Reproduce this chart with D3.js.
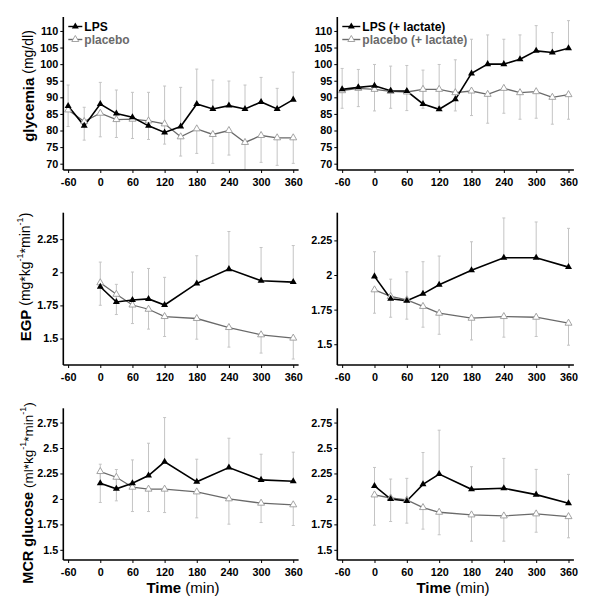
<!DOCTYPE html>
<html>
<head>
<meta charset="utf-8">
<script src="https://cdn.jsdelivr.net/npm/d3@7/dist/d3.min.js"></script>
<style>
  html, body { margin: 0; padding: 0; background: #fff; }
  svg { display: block; font-family: "Liberation Sans", Arial, sans-serif; }
</style>
</head>
<body>
<svg id="chart" width="600" height="614"></svg>
<script>
// ---------- data ----------
const timeGly = [-60, -30, 0, 30, 60, 90, 120, 150, 180, 210, 240, 270, 300, 330, 360];
const timeKin = [0, 30, 60, 90, 120, 180, 240, 300, 360];

const xTickLabels = [-60, 0, 60, 120, 180, 240, 300, 360];
const glyTicks = [70, 75, 80, 85, 90, 95, 100, 105, 110];
const egpTicks = [1.5, 1.75, 2, 2.25];
const mcrTicks = [1.5, 1.75, 2, 2.25, 2.5, 2.75];

// glycemia (mg/dl)
const glyLPS        = [87.4, 81.4, 88.0, 85.1, 84.0, 81.4, 79.4, 81.2, 88.0, 86.5, 87.5, 86.5, 88.6, 86.5, 89.3];
const glyLPSErr     = [6.3, 5.6, 6.5, 7.1, 7.5, 10.1, 14.0, 11.8, 10.5, 8.7, 7.4, 7.2, 7.4, 6.2, 8.3];
const glyPlacebo    = [86.2, 82.7, 85.2, 83.3, 83.4, 82.9, 82.0, 78.1, 80.5, 78.8, 80.0, 76.4, 78.5, 77.8, 77.8];
const glyPlaceboErr = [5.0, 5.6, 7.1, 5.4, 5.8, 5.6, 6.1, 5.8, 7.4, 8.7, 7.4, 8.5, 8.1, 8.3, 7.7];

const glyLPSLac        = [92.4, 93.0, 93.5, 92.0, 91.9, 88.0, 86.4, 89.4, 97.2, 100.0, 100.0, 101.5, 104.0, 103.5, 104.8];
const glyLPSLacErr     = [6.3, 5.4, 6.4, 7.4, 7.7, 10.2, 13.5, 11.9, 10.3, 8.8, 7.5, 7.3, 7.6, 6.0, 8.3];
const glyPlaceboLac    = [92.0, 92.7, 92.4, 91.8, 91.6, 92.4, 92.4, 91.4, 91.9, 90.9, 92.7, 91.4, 91.7, 90.0, 90.8];
const glyPlaceboLacErr = [5.3, 5.5, 6.5, 5.1, 5.6, 5.7, 5.2, 5.5, 7.4, 8.7, 7.5, 8.0, 8.0, 8.1, 7.4];

// EGP (mg*kg-1*min-1)
const egpLPS        = [1.891, 1.776, 1.791, 1.799, 1.753, 1.916, 2.024, 1.936, 1.926];
const egpLPSErr     = [0.186, 0.133, 0.211, 0.230, 0.209, 0.209, 0.284, 0.251, 0.276];
const egpPlacebo    = [1.921, 1.834, 1.753, 1.721, 1.666, 1.651, 1.583, 1.528, 1.503];
const egpPlaceboErr = [0.170, 0.153, 0.140, 0.150, 0.151, 0.156, 0.148, 0.138, 0.158];

const egpLPSLac        = [1.990, 1.828, 1.814, 1.864, 1.929, 2.035, 2.125, 2.125, 2.057];
const egpLPSLacErr     = [0.178, 0.142, 0.209, 0.232, 0.208, 0.205, 0.287, 0.258, 0.280];
const egpPlaceboLac    = [1.893, 1.845, 1.821, 1.773, 1.724, 1.688, 1.700, 1.695, 1.652];
const egpPlaceboLacErr = [0.169, 0.150, 0.140, 0.150, 0.152, 0.157, 0.149, 0.139, 0.159];

// MCR glucose (ml*kg-1*min-1)
const mcrLPS        = [2.154, 2.099, 2.154, 2.230, 2.364, 2.168, 2.308, 2.187, 2.174];
const mcrLPSErr     = [0.187, 0.190, 0.229, 0.317, 0.435, 0.222, 0.288, 0.252, 0.285];
const mcrPlacebo    = [2.269, 2.213, 2.115, 2.096, 2.096, 2.069, 2.001, 1.958, 1.942];
const mcrPlaceboErr = [0.304, 0.232, 0.239, 0.220, 0.230, 0.255, 0.249, 0.190, 0.203];

const mcrLPSLac        = [2.127, 1.999, 1.980, 2.143, 2.244, 2.094, 2.104, 2.042, 1.957];
const mcrLPSLacErr     = [0.182, 0.196, 0.222, 0.313, 0.431, 0.222, 0.294, 0.248, 0.284];
const mcrPlaceboLac    = [2.039, 2.009, 1.990, 1.915, 1.869, 1.843, 1.833, 1.853, 1.826];
const mcrPlaceboLacErr = [0.297, 0.231, 0.228, 0.212, 0.221, 0.258, 0.248, 0.180, 0.208];

const legendLeft  = ["LPS", "placebo"];
const legendRight = ["LPS (+ lactate)", "placebo (+ lactate)"];

// ---------- layout ----------
const svg = d3.select("#chart");
const cols = [{x0: 63.3, x1: 298.6}, {x0: 337.3, x1: 573.9}];
const rows = [
  {top: 17, bottom: 170},
  {top: 212.7, bottom: 365},
  {top: 408.3, bottom: 560}
];
const xDomain = [-69, 370];

const panels = [
  {r: 0, c: 0, t: timeGly, a: glyLPS, ae: glyLPSErr, b: glyPlacebo, be: glyPlaceboErr, dom: [68.1, 114.2], ticks: glyTicks, legend: legendLeft},
  {r: 0, c: 1, t: timeGly, a: glyLPSLac, ae: glyLPSLacErr, b: glyPlaceboLac, be: glyPlaceboLacErr, dom: [68.1, 114.2], ticks: glyTicks, legend: legendRight},
  {r: 1, c: 0, t: timeKin, a: egpLPS, ae: egpLPSErr, b: egpPlacebo, be: egpPlaceboErr, dom: [1.30, 2.45], ticks: egpTicks},
  {r: 1, c: 1, t: timeKin, a: egpLPSLac, ae: egpLPSLacErr, b: egpPlaceboLac, be: egpPlaceboLacErr, dom: [1.35, 2.45], ticks: egpTicks},
  {r: 2, c: 0, t: timeKin, a: mcrLPS, ae: mcrLPSErr, b: mcrPlacebo, be: mcrPlaceboErr, dom: [1.40, 2.89], ticks: mcrTicks},
  {r: 2, c: 1, t: timeKin, a: mcrLPSLac, ae: mcrLPSLacErr, b: mcrPlaceboLac, be: mcrPlaceboLacErr, dom: [1.40, 2.89], ticks: mcrTicks}
];

const tri = d3.symbol().type(d3.symbolTriangle).size(21);
const LPS_COLOR = "#000";
const PLA_LINE = "#6a6a6a";
const PLA_MARK = "#9a9a9a";
const ERR_COLOR = "#c4c4c4";

panels.forEach((p, i) => {
  const col = cols[p.c], row = rows[p.r];
  const x = d3.scaleLinear().domain(xDomain).range([col.x0, col.x1]);
  const y = d3.scaleLinear().domain(p.dom).range([row.bottom, row.top]);
  const g = svg.append("g");

  const clipId = "clip" + i;
  svg.append("clipPath").attr("id", clipId).append("rect")
    .attr("x", col.x0).attr("y", row.top)
    .attr("width", col.x1 - col.x0).attr("height", row.bottom - row.top);

  const plot = g.append("g").attr("clip-path", `url(#${clipId})`);

  // error bars: LPS upward, placebo downward
  const errs = [];
  p.t.forEach((t, k) => {
    errs.push({t, v0: p.a[k], v1: p.a[k] + p.ae[k]});
    errs.push({t, v0: p.b[k], v1: p.b[k] - p.be[k]});
  });
  const eb = plot.append("g").attr("stroke", ERR_COLOR).attr("stroke-width", 1);
  eb.selectAll("line.v").data(errs).join("line").attr("class", "v")
    .attr("x1", d => x(d.t)).attr("x2", d => x(d.t))
    .attr("y1", d => y(d.v0)).attr("y2", d => y(d.v1));
  eb.selectAll("line.cap").data(errs).join("line").attr("class", "cap")
    .attr("x1", d => x(d.t) - 1.5).attr("x2", d => x(d.t) + 1.5)
    .attr("y1", d => y(d.v1)).attr("y2", d => y(d.v1));

  const line = d3.line().x(d => x(d[0])).y(d => y(d[1]));
  const aPts = p.t.map((t, k) => [t, p.a[k]]);
  const bPts = p.t.map((t, k) => [t, p.b[k]]);

  plot.append("path").datum(bPts).attr("d", line)
    .attr("fill", "none").attr("stroke", PLA_LINE).attr("stroke-width", 1.3);
  plot.append("path").datum(aPts).attr("d", line)
    .attr("fill", "none").attr("stroke", LPS_COLOR).attr("stroke-width", 1.6);

  plot.selectAll("path.mb").data(bPts).join("path").attr("class", "mb")
    .attr("d", tri).attr("transform", d => `translate(${x(d[0])},${y(d[1])})`)
    .attr("fill", "#fff").attr("stroke", PLA_MARK).attr("stroke-width", 0.9);
  plot.selectAll("path.ma").data(aPts).join("path").attr("class", "ma")
    .attr("d", tri).attr("transform", d => `translate(${x(d[0])},${y(d[1])})`)
    .attr("fill", LPS_COLOR);

  // axes
  const yAxis = d3.axisLeft(y).tickValues(p.ticks).tickSize(3).tickPadding(2).tickFormat(d => String(d));
  const ya = g.append("g").attr("transform", `translate(${col.x0},0)`).call(yAxis);
  const xAxis = d3.axisBottom(x).tickValues(xTickLabels).tickSize(3).tickPadding(5).tickFormat(d => String(d));
  const xa = g.append("g").attr("transform", `translate(0,${row.bottom})`).call(xAxis);
  [ya, xa].forEach(a => {
    a.select(".domain").attr("stroke", "#000").attr("stroke-width", 1.6);
    a.selectAll(".tick line").attr("stroke", "#000").attr("stroke-width", 1);
    a.selectAll(".tick text").attr("fill", "#000").style("font-size", "10.8px").style("font-weight", "bold")
      .style("font-family", "'Liberation Sans', Arial, sans-serif");
  });
  ya.select(".domain").attr("d", `M-0,${row.bottom}V${row.top}`);
  xa.select(".domain").attr("d", `M${col.x0},0H${col.x1}`);

  // legend
  if (p.legend) {
    const lx = col.x0 + 5;
    const items = [
      {label: p.legend[0], y: 26.5, stroke: LPS_COLOR, fill: LPS_COLOR, mstroke: "none", tcolor: "#000"},
      {label: p.legend[1], y: 39.5, stroke: PLA_LINE, fill: "#fff", mstroke: PLA_MARK, tcolor: "#6a6a6a"}
    ];
    const lw = p.c === 0 ? 14 : 18;
    items.forEach(it => {
      g.append("line").attr("x1", lx).attr("x2", lx + lw).attr("y1", it.y).attr("y2", it.y)
        .attr("stroke", it.stroke).attr("stroke-width", 1.4);
      g.append("path").attr("d", tri).attr("transform", `translate(${lx + lw / 2},${it.y})`)
        .attr("fill", it.fill).attr("stroke", it.mstroke).attr("stroke-width", 0.9);
      g.append("text").attr("x", lx + lw + 2).attr("y", it.y + 4.2)
        .attr("fill", it.tcolor).style("font-size", "12px").style("font-weight", "bold")
        .text(it.label);
    });
  }
});

// y-axis titles
function yTitle(cx, cy, parts) {
  const t = svg.append("text")
    .attr("transform", `translate(${cx},${cy}) rotate(-90)`)
    .attr("text-anchor", "middle").attr("dominant-baseline", "central")
    .attr("fill", "#000");
  parts.forEach(pt => {
    const s = t.append("tspan").text(pt.text)
      .style("font-size", (pt.size || 14) + "px")
      .style("font-weight", pt.bold ? "bold" : "normal");
    if (pt.shift) s.attr("baseline-shift", pt.shift);
  });
}
yTitle(28, 86, [{text: "glycemia", bold: true, size: 15}, {text: " (mg/dl)", size: 14}]);
yTitle(25, 277, [
  {text: "EGP", bold: true, size: 15}, {text: " (mg*kg", size: 14},
  {text: "-1", size: 9, shift: "super"}, {text: "*min", size: 14},
  {text: "-1", size: 9, shift: "super"}, {text: ")", size: 14}
]);
yTitle(28, 493, [
  {text: "MCR glucose", bold: true, size: 14.5}, {text: " (ml*kg", size: 13.5},
  {text: "-1", size: 9, shift: "super"}, {text: "*min", size: 13.5},
  {text: "-1", size: 9, shift: "super"}, {text: ")", size: 13.5}
]);

// x-axis titles
[183, 453].forEach(cx => {
  const t = svg.append("text").attr("x", cx).attr("y", 593)
    .attr("text-anchor", "middle").attr("fill", "#000");
  t.append("tspan").text("Time").style("font-size", "15px").style("font-weight", "bold");
  t.append("tspan").text(" (min)").style("font-size", "15px");
});
</script>
</body>
</html>
